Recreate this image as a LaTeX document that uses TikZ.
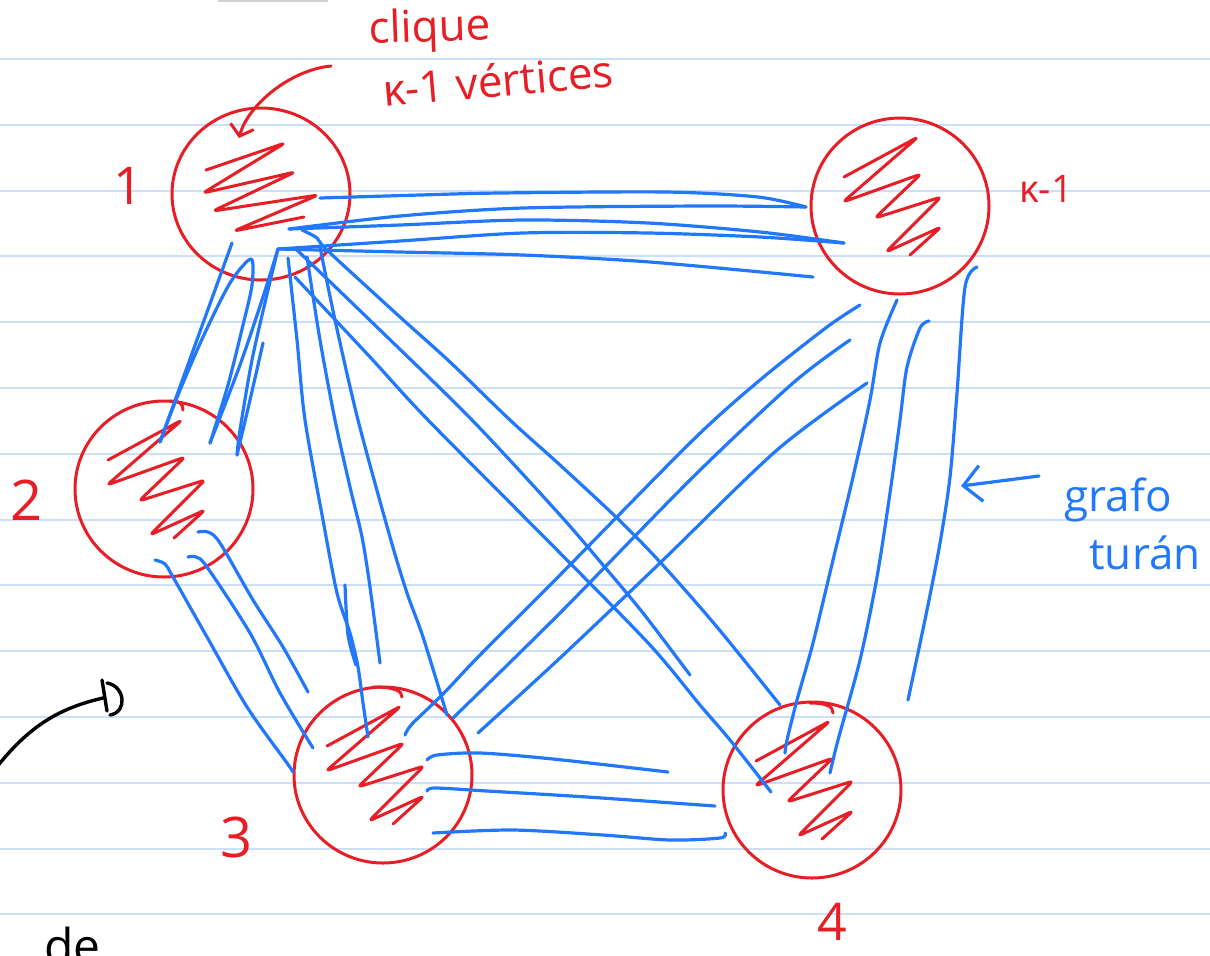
\documentclass[tikz,border=0pt]{standalone}
\usepackage{fontspec}
\setmainfont{Open Sans}
\usetikzlibrary{calc,arrows.meta,shapes.geometric}
\definecolor{penred}{RGB}{232,30,38}
\definecolor{penblue}{RGB}{34,120,252}
\definecolor{ruleblue}{RGB}{204,223,250}
\definecolor{smudge}{RGB}{210,210,210}
\tikzset{
  rule/.style={ruleblue, line width=1pt},
  redpen/.style={penred, line width=1.5pt, line cap=round, line join=round},
  bluepen/.style={penblue, line width=1.6pt, line cap=round, line join=round},
  blackpen/.style={black, line width=1.7pt, line cap=round, line join=round},
  part/.style={ellipse, draw=penred, line width=1.5pt, minimum width=89pt,
    minimum height=88pt, inner sep=0pt},
  redlabel/.style={text=penred, inner sep=0pt},
  bluelabel/.style={text=penblue, inner sep=0pt},
  stroke/.style={bluepen, smooth, tension=0.5},
  zz/.pic={\draw[redpen, rounded corners=2pt] (-56,-29) -- (18,-69) -- (-57,-4)
    -- (21,-32) -- (-25,12) -- (41,-9) -- (-14,46) -- (41,21) -- (10,49);},
  zzone/.pic={\draw[redpen, rounded corners=2pt] (-55,-24) -- (24,-51) -- (-58,-1)
    -- (34,-22) -- (-48,17) -- (57,1) -- (-27,37) -- (43,23);},
}
\begin{document}
\begin{tikzpicture}[x=0.5pt, y=-0.5pt]
\useasboundingbox (0,0) rectangle (1210,955);
\fill[white] (0,0) rectangle (1210,955);
% ruled paper
\foreach \k in {0,...,13} \draw[rule] (0,{59+65.8*\k}) -- (1210,{59+65.8*\k});
\fill[smudge] (218,-4) rectangle (328,2);

% the parts of the Turan graph
\node[part, minimum height=86pt] (v1) at (261,194) {};
\node[part] (vk) at (900,206) {};
\node[part] (v2) at (164,489) {};
\node[part] (v3) at (383,775) {};
\node[part] (v4) at (812,790) {};
\pic at (v1) {zzone};
\pic at (vk) {zz};
\pic at (v2) {zz};
\pic at (v3) {zz};
\pic at (v4) {zz};
\draw[redpen] ($(v2)+(6,-88)$) .. controls +(10,0) and +(0,-6) .. ($(v2)+(19,-79)$);
\draw[redpen] ($(v3)+(-10,-88)$) .. controls +(22,0) and +(0,-6) .. ($(v3)+(19,-78)$);
\draw[redpen] ($(v4)+(-2,-87)$) .. controls +(18,0) and +(0,-6) .. ($(v4)+(21,-77)$);

% labels of the parts
\node[redlabel, font=\fontsize{26}{30}\selectfont] (l1) at (128,186) {1};
\node[redlabel, font=\fontsize{19}{22}\selectfont] (lk) at (1046,189) {κ-1};
\node[redlabel, font=\fontsize{28}{32}\selectfont] (l2) at (27,500) {2};
\node[redlabel, font=\fontsize{28}{32}\selectfont] (l3) at (237,837) {3};
\node[redlabel, font=\fontsize{26}{30}\selectfont] (l4) at (832,922) {4};

% clique annotation
\node[redlabel, font=\fontsize{22}{26}\selectfont, rotate=2] (clq) at (430,30) {clique};
\node[redlabel, font=\fontsize{22}{26}\selectfont, rotate=5] (kv) at (498,80) {κ-1 vértices};
\draw[redpen, -{Straight Barb[length=5pt,width=12pt]}]
  ($(v1)+(70,-128)$) .. controls (290,70) and (248,105) .. ($(v1)+(-22,-56)$);

% edges between part 1 and part k-1
\draw[stroke] plot coordinates {($(v1)+(59,4)$) (420,195) (500,193) (666,192) (758,197) ($(vk)+(-94,1)$)};
\draw[stroke] plot coordinates {($(vk)+(-94,1)$) (706,206) (523,208) (400,216) ($(v1)+(28,35)$)};
\draw[stroke] plot coordinates {($(v1)+(28,35)$) (400,225) (523,220) (648,223) (760,232) ($(vk)+(-56,37)$)};
\draw[stroke] plot coordinates {($(vk)+(-56,37)$) (760,237) (648,233) (523,233) (400,241) ($(v1)+(17,55)$)};
\draw[stroke] plot coordinates {($(v1)+(17,55)$) (400,252) (523,255) (650,262) ($(vk)+(-87,71)$)};

% edges between part 1 and part 2
\draw[stroke] plot coordinates {($(v1)+(-29,49)$) ($(v2)+(-4,-47)$)};
\draw[stroke] plot coordinates {($(v2)+(-4,-47)$) (178,395) (203,337) (230,283) (251,259) (252,285) (243,325) (228,385) ($(v2)+(46,-46)$)};
\draw[stroke] plot coordinates {($(v1)+(17,55)$) (262,300) (240,365) ($(v2)+(46,-46)$)};
\draw[stroke] plot coordinates {($(v1)+(17,55)$) (268,290) (252,360) (240,430) ($(v2)+(73,-34)$)};
\draw[stroke] plot coordinates {(263,343) (250,400) ($(v2)+(73,-34)$)};

% edges between part 1 and part 3
\draw[stroke] plot coordinates {($(v1)+(27,64)$) (297,340) (305,420) (323,520) (337,593) (350,633) (358,667) (363,703) ($(v3)+(-15,-38)$)};
\draw[stroke] plot coordinates {(345,585) (348,635) (356,665)};
\draw[stroke] plot coordinates {($(v1)+(46,63)$) (320,340) (335,420) (350,487) (362,537) (370,587) ($(v3)+(-3,-112)$)};
\draw[stroke] plot coordinates {($(v1)+(59,53)$) (335,320) (358,420) (390,537) (407,593) (423,637) ($(v3)+(64,-60)$)};

% edges between part 1 and part 4
\draw[stroke] plot coordinates {($(v1)+(41,36)$) (317,238) (328,251) (400,317) (450,362) (510,420) (560,465) (617,518) (660,562) (717,627) ($(v4)+(-32,-85)$)};
\draw[stroke] plot coordinates {($(v1)+(36,56)$) (380,330) (472,420) (560,515) (603,565) (643,613) ($(v4)+(-122,-115)$)};
\draw[stroke] plot coordinates {($(v1)+(34,83)$) (370,357) (428,420) (560,553) (650,645) (700,705) (730,740) ($(v4)+(-41,2)$)};

% edges between part k-1 and part 3
\draw[stroke] plot coordinates {($(vk)+(-40,99)$) (827,327) (760,380) (693,440) (560,575) (480,655) (443,694) (412,724) ($(v3)+(22,-40)$)};
\draw[stroke] plot coordinates {($(vk)+(-50,134)$) (793,383) (693,477) (560,613) ($(v3)+(70,-57)$)};
\draw[stroke] plot coordinates {($(vk)+(-33,177)$) (777,450) (660,563) (560,658) ($(v3)+(95,-42)$)};

% edges between part k-1 and part 4
\draw[stroke] plot coordinates {($(vk)+(-3,94)$) (880,343) (870,400) (853,477) (833,560) (813,643) (797,700) (787,740) ($(v4)+(-27,-37)$)};
\draw[stroke] plot coordinates {($(vk)+(29,115)$) (920,328) (907,367) (900,420) (890,493) (877,577) (860,660) (838,740) ($(v4)+(18,-17)$)};
\draw[stroke] plot coordinates {($(vk)+(77,61)$) (965,287) (957,393) (950,477) (940,543) (927,610) ($(v4)+(96,-90)$)};

% edges between part 2 and part 3
\draw[stroke] plot coordinates {($(v2)+(-9,71)$) (165,564) (173,577) (207,637) (247,707) (287,763) ($(v3)+(-90,-3)$)};
\draw[stroke] plot coordinates {($(v2)+(24,68)$) (196,557) (207,567) (250,633) (280,693) ($(v3)+(-70,-27)$)};
\draw[stroke] plot coordinates {($(v2)+(34,43)$) (208,532) (220,543) (253,600) (283,647) ($(v3)+(-75,-83)$)};

% edges between part 3 and part 4
\draw[stroke] plot coordinates {($(v3)+(44,-15)$) (437,755) (480,753) (553,759) ($(v4)+(-144,-18)$)};
\draw[stroke] plot coordinates {($(v3)+(44,16)$) (435,788) (487,791) (587,797) ($(v4)+(-97,16)$)};
\draw[stroke] plot coordinates {($(v3)+(50,58)$) (513,830) (603,835) (670,840) (720,838) ($(v4)+(-87,43)$)};

% Turan graph annotation
\node[bluelabel, font=\fontsize{22}{26}\selectfont] (grafo) at (1118,500) {grafo};
\node[bluelabel, font=\fontsize{22}{26}\selectfont] (turan) at (1145,553) {turán};
\coordinate (gtip) at (961,486);
\draw[bluepen, -{Straight Barb[length=9pt,width=18pt]}] ($(grafo.west)+(-25,-24)$) -- (gtip);

% black marks at the left margin
\coordinate (mstart) at (-4,768);
\coordinate (mtip) at (103,698);
\draw[blackpen] (mstart) .. controls (30,725) and (60,708) .. (mtip);
\draw[blackpen] (102,680) -- (107,711);
\draw[blackpen] (107,683) .. controls (125,686) and (128,712) .. (110,715);
\node[anchor=base west, inner sep=0pt, font=\fontsize{24}{28}\selectfont] (de) at (44,963) {de};
\end{tikzpicture}
\end{document}
